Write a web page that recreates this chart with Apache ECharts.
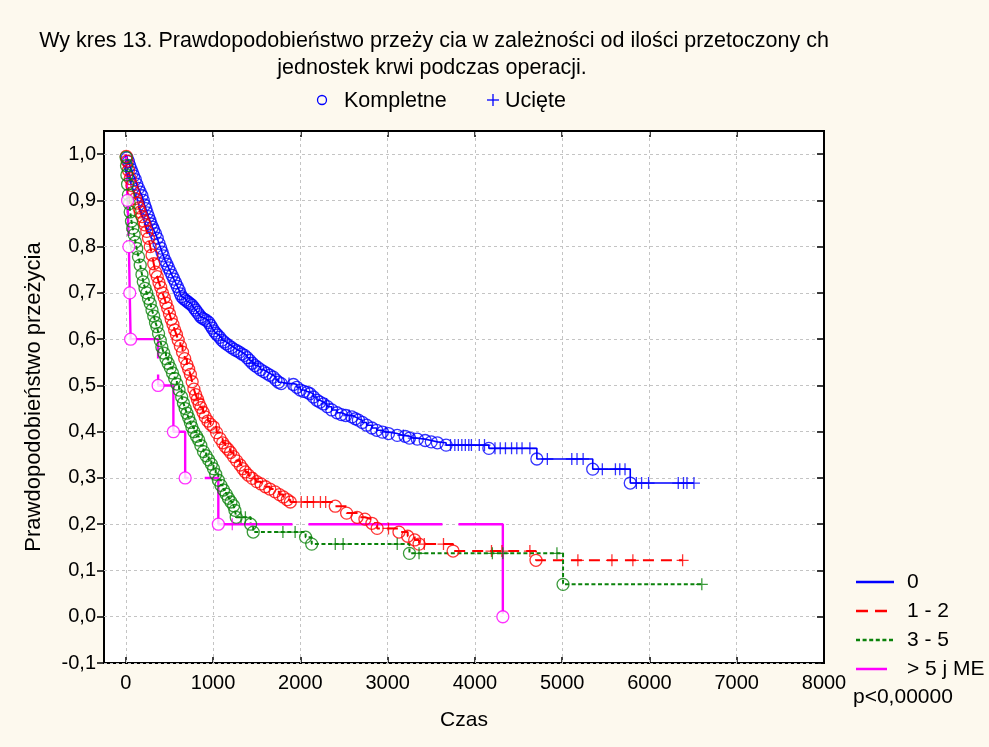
<!DOCTYPE html>
<html>
<head>
<meta charset="utf-8">
<script src="https://cdn.jsdelivr.net/npm/echarts@6/dist/echarts.min.js"></script>
<style>
html,body{margin:0;padding:0;background:#fdf9ee;}
#chart{width:989px;height:747px;}
</style>
</head>
<body>
<div id="chart"></div>
<script>
// ---------------- DATA ----------------
const titleLine1 = 'Wy kres 13. Prawdopodobieństwo przeży cia w zależności od ilości przetoczony ch';
const titleLine2 = 'jednostek krwi podczas operacji.';
const markerLegend = ['Kompletne', 'Ucięte'];
const groupNames = ['0', '1 - 2', '3 - 5', '> 5 j ME'];
const xAxisName = 'Czas';
const yAxisName = 'Prawdopodobieństwo przeżycia';
const pValueText = 'p<0,00000';
const xTickValues = [0, 1000, 2000, 3000, 4000, 5000, 6000, 7000, 8000];
const yTickValues = [-0.1, 0.0, 0.1, 0.2, 0.3, 0.4, 0.5, 0.6, 0.7, 0.8, 0.9, 1.0];

// group "0": completed observations [time, survival], censored times
const events0 = [[15,0.992],[30,0.984],[45,0.975],[60,0.967],[75,0.96],[90,0.953],[108,0.945],[125,0.935],[145,0.926],[165,0.918],[185,0.91],[200,0.9],[215,0.89],[230,0.882],[245,0.873],[260,0.865],[275,0.857],[290,0.849],[305,0.842],[320,0.836],[340,0.828],[360,0.818],[380,0.807],[400,0.797],[415,0.788],[430,0.78],[450,0.77],[470,0.762],[490,0.754],[510,0.746],[530,0.738],[550,0.73],[570,0.722],[590,0.714],[610,0.706],[625,0.698],[640,0.692],[660,0.688],[680,0.685],[700,0.682],[720,0.679],[740,0.676],[760,0.673],[780,0.668],[800,0.663],[820,0.658],[840,0.653],[860,0.648],[880,0.645],[900,0.643],[925,0.64],[950,0.636],[970,0.63],[990,0.624],[1010,0.618],[1030,0.613],[1050,0.609],[1075,0.604],[1100,0.598],[1125,0.594],[1150,0.59],[1180,0.586],[1210,0.582],[1240,0.578],[1270,0.575],[1300,0.572],[1330,0.568],[1360,0.565],[1390,0.56],[1420,0.554],[1450,0.548],[1480,0.543],[1510,0.539],[1545,0.534],[1580,0.53],[1615,0.526],[1650,0.522],[1690,0.518],[1720,0.512],[1750,0.507],[1780,0.504],[1920,0.502],[1960,0.496],[2000,0.49],[2040,0.487],[2080,0.485],[2110,0.482],[2150,0.475],[2190,0.468],[2225,0.464],[2265,0.46],[2310,0.454],[2360,0.447],[2420,0.441],[2470,0.437],[2520,0.435],[2590,0.432],[2630,0.428],[2665,0.425],[2710,0.42],[2760,0.414],[2820,0.408],[2875,0.403],[2940,0.399],[3010,0.396],[3110,0.392],[3200,0.39],[3250,0.386],[3340,0.384],[3430,0.381],[3500,0.378],[3570,0.376],[3670,0.371],[4160,0.364],[4710,0.341],[5350,0.319],[5780,0.289]];
const censored0 = [1460,1870,2300,2560,2980,3180,3300,3720,3770,3810,3850,3890,3930,3960,4050,4110,4230,4290,4350,4420,4480,4540,4630,4830,5110,5170,5240,5460,5610,5660,5720,5850,5910,5990,6330,6390,6430,6510];

// group "1 - 2"
const events1 = [[5,0.995],[15,0.985],[30,0.965],[50,0.947],[70,0.932],[90,0.918],[110,0.904],[130,0.894],[150,0.884],[165,0.875],[185,0.865],[205,0.855],[220,0.847],[240,0.833],[260,0.818],[280,0.8],[300,0.782],[320,0.763],[340,0.745],[360,0.735],[380,0.722],[400,0.712],[420,0.7],[440,0.69],[460,0.678],[480,0.667],[500,0.655],[520,0.643],[540,0.632],[560,0.62],[580,0.61],[600,0.598],[625,0.585],[650,0.572],[675,0.558],[700,0.545],[720,0.535],[740,0.524],[760,0.508],[780,0.492],[800,0.48],[820,0.47],[840,0.46],[860,0.452],[885,0.442],[910,0.432],[940,0.423],[970,0.416],[1005,0.41],[1040,0.398],[1080,0.385],[1110,0.376],[1140,0.368],[1170,0.362],[1200,0.355],[1235,0.346],[1270,0.337],[1310,0.328],[1340,0.32],[1370,0.313],[1405,0.306],[1450,0.299],[1500,0.292],[1550,0.287],[1600,0.281],[1650,0.276],[1710,0.27],[1760,0.264],[1805,0.259],[1850,0.253],[1885,0.248],[2400,0.239],[2530,0.224],[2650,0.215],[2740,0.211],[2820,0.202],[2880,0.191],[3130,0.183],[3230,0.174],[3310,0.166],[3360,0.157],[3750,0.142],[4700,0.122]];
const censored1 = [830,1480,2010,2080,2150,2230,2290,3010,3420,3640,4190,4310,4630,5180,5570,5810,6380];

// group "3 - 5"
const events2 = [[3,0.993],[8,0.975],[12,0.955],[20,0.935],[30,0.912],[40,0.893],[50,0.875],[65,0.855],[80,0.84],[95,0.826],[110,0.81],[125,0.796],[145,0.778],[165,0.76],[185,0.74],[200,0.724],[220,0.71],[240,0.7],[260,0.688],[280,0.677],[300,0.663],[320,0.65],[340,0.636],[356,0.627],[375,0.612],[395,0.597],[413,0.583],[435,0.57],[460,0.558],[485,0.548],[510,0.538],[535,0.527],[560,0.515],[585,0.503],[610,0.49],[640,0.475],[660,0.462],[680,0.45],[700,0.44],[720,0.43],[740,0.42],[757,0.41],[780,0.4],[810,0.39],[835,0.382],[860,0.37],[890,0.357],[920,0.348],[950,0.339],[980,0.33],[1005,0.32],[1030,0.308],[1060,0.295],[1090,0.284],[1120,0.274],[1150,0.265],[1175,0.256],[1205,0.248],[1235,0.24],[1250,0.23],[1265,0.215],[1430,0.2],[1460,0.183],[2060,0.172],[2130,0.157],[3250,0.137],[5010,0.07]];
const censored2 = [1320,1370,1800,1940,2400,2490,3110,3360,4200,4320,4940,6600];

// group "> 5 j ME"
const events3 = [[20,0.9],[35,0.8],[45,0.7],[55,0.6],[370,0.5],[545,0.4],[680,0.3],[1060,0.2],[4320,0.0]];
const censored3 = [1220];

const allEvents = [events0, events1, events2, events3];
const allCensored = [censored0, censored1, censored2, censored3];

// ---------------- STYLE ----------------
const FONT = '"Liberation Sans", Arial, sans-serif';
const colors = ['#0000ff', '#ff0000', '#0a820a', '#ff00ff'];
const lineTypes = ['solid', [11, 7], [4, 2.6], [134, 16]];
const dashOffsets = [0, 0, 0, 52];
const lineWidths = [1.6, 2, 2, 2.4];
const circleFill = ['rgba(0,0,0,0)', 'rgba(0,0,0,0)', 'rgba(0,0,0,0)', '#ffffff'];
const PLUS = 'path://M5,0L5,10M0,5L10,5';

function survivalAt(events, t) {
  let s = 1;
  for (const e of events) { if (e[0] <= t) s = e[1]; }
  return s;
}

const series = [];
allEvents.forEach((ev, i) => {
  const cens = allCensored[i].map(t => [t, survivalAt(ev, t)]);
  const pts = [[0, 1]].concat(ev, cens).sort((a, b) => a[0] - b[0]);
  const lineSeries = {
    name: groupNames[i], type: 'line', step: 'end', data: pts, symbol: 'none', z: 3,
    lineStyle: { color: colors[i], width: lineWidths[i], type: lineTypes[i], dashOffset: dashOffsets[i] },
    animation: false
  };
  if (i === 0) {
    // vertical grid lines at the x ticks
    lineSeries.markLine = {
      silent: true, symbol: 'none', label: { show: false }, z: 1, animation: false,
      lineStyle: { color: '#c4c4c4', type: [3, 3], width: 1 },
      data: xTickValues.filter(v => v < 8000).map(v => ({ xAxis: v }))
    };
  }
  series.push(lineSeries);
  series.push({
    type: 'scatter', data: ev, symbol: 'circle', symbolSize: 12, z: 3,
    itemStyle: { color: circleFill[i], borderColor: colors[i], borderWidth: 1.3 },
    animation: false
  });
  series.push({
    type: 'scatter', data: cens, symbol: PLUS, symbolSize: 12, z: 3,
    itemStyle: { color: 'rgba(0,0,0,0)', borderColor: colors[i], borderWidth: 1.3 },
    animation: false
  });
});

const fmtY = v => (Math.round(v * 10) / 10).toFixed(1).replace('.', ',');
const fmtX = v => String(Math.round(v));

const legendGraphics = [];
const legendY = [582, 611, 640, 669];
const legendEnds = [894, 887, 895, 887];
groupNames.forEach((n, i) => {
  legendGraphics.push({
    type: 'line', shape: { x1: 856, y1: legendY[i], x2: legendEnds[i], y2: legendY[i] },
    style: { stroke: colors[i], lineWidth: 2.5, lineDash: i === 1 ? [12, 7] : (i === 2 ? [4, 2.6] : null) }
  });
  legendGraphics.push({
    type: 'text', x: 907, y: legendY[i],
    style: { text: n, fill: '#000', font: '21px ' + FONT, verticalAlign: 'middle', align: 'left' }
  });
});

const option = {
  backgroundColor: '#fdf9ee',
  animation: false,
  grid: {
    left: 104, top: 131, width: 720, height: 532,
    show: true, backgroundColor: '#ffffff', borderColor: '#000', borderWidth: 2,
    containLabel: false, outerBoundsMode: 'none'
  },
  xAxis: [{
    type: 'value', min: -250, max: 8000,
    axisLine: { show: false, onZero: false },
    axisTick: { show: true, inside: true, length: 6, customValues: xTickValues, lineStyle: { color: '#000', width: 1.5 } },
    axisLabel: { customValues: xTickValues, formatter: fmtX, margin: 10, color: '#000', fontSize: 20, fontFamily: FONT },
    splitLine: { show: false },
    name: xAxisName, nameLocation: 'middle', nameGap: 47,
    nameTextStyle: { color: '#000', fontSize: 21, fontFamily: FONT }
  }, {
    type: 'value', min: -250, max: 8000, position: 'top',
    axisLine: { show: false, onZero: false },
    axisTick: { show: true, inside: true, length: 6, customValues: xTickValues, lineStyle: { color: '#000', width: 1.5 } },
    axisLabel: { show: false },
    splitLine: { show: false }
  }],
  yAxis: [{
    type: 'value', min: -0.1, max: 1.05, interval: 0.1,
    axisLine: { show: false, onZero: false },
    axisTick: { show: true, inside: false, length: 7, customValues: yTickValues, lineStyle: { color: '#000', width: 1.5 } },
    axisLabel: { customValues: yTickValues, formatter: fmtY, margin: 8, color: '#000', fontSize: 20, fontFamily: FONT },
    splitLine: { show: true, lineStyle: { color: '#c4c4c4', type: [3, 3], width: 1 } },
    name: yAxisName, nameLocation: 'middle', nameGap: 59,
    nameTextStyle: { color: '#000', fontSize: 22, fontFamily: FONT }
  }, {
    type: 'value', min: -0.1, max: 1.05, interval: 0.1, position: 'right',
    axisLine: { show: false, onZero: false },
    axisTick: { show: true, inside: true, length: 7, customValues: yTickValues, lineStyle: { color: '#000', width: 1.5 } },
    axisLabel: { show: false },
    splitLine: { show: false }
  }],
  series: series,
  graphic: [
    { type: 'text', x: 434, y: 41, style: { text: titleLine1, fill: '#000', font: '21.5px ' + FONT, align: 'center', verticalAlign: 'middle' } },
    { type: 'text', x: 432, y: 68, style: { text: titleLine2, fill: '#000', font: '21.5px ' + FONT, align: 'center', verticalAlign: 'middle' } },
    { type: 'circle', shape: { cx: 322, cy: 100, r: 4.5 }, style: { fill: 'none', stroke: '#0000ff', lineWidth: 1.3 } },
    { type: 'text', x: 344, y: 101, style: { text: markerLegend[0], fill: '#000', font: '21.5px ' + FONT, align: 'left', verticalAlign: 'middle' } },
    { type: 'line', shape: { x1: 487, y1: 100, x2: 499, y2: 100 }, style: { stroke: '#0000ff', lineWidth: 1.3 } },
    { type: 'line', shape: { x1: 493, y1: 94, x2: 493, y2: 106 }, style: { stroke: '#0000ff', lineWidth: 1.3 } },
    { type: 'text', x: 505, y: 101, style: { text: markerLegend[1], fill: '#000', font: '21.5px ' + FONT, align: 'left', verticalAlign: 'middle' } },
    { type: 'text', x: 853, y: 697, style: { text: pValueText, fill: '#000', font: '21px ' + FONT, align: 'left', verticalAlign: 'middle' } }
  ].concat(legendGraphics)
};

const chart = echarts.init(document.getElementById('chart'), null, { renderer: 'canvas' });
chart.setOption(option);
</script>
</body>
</html>
